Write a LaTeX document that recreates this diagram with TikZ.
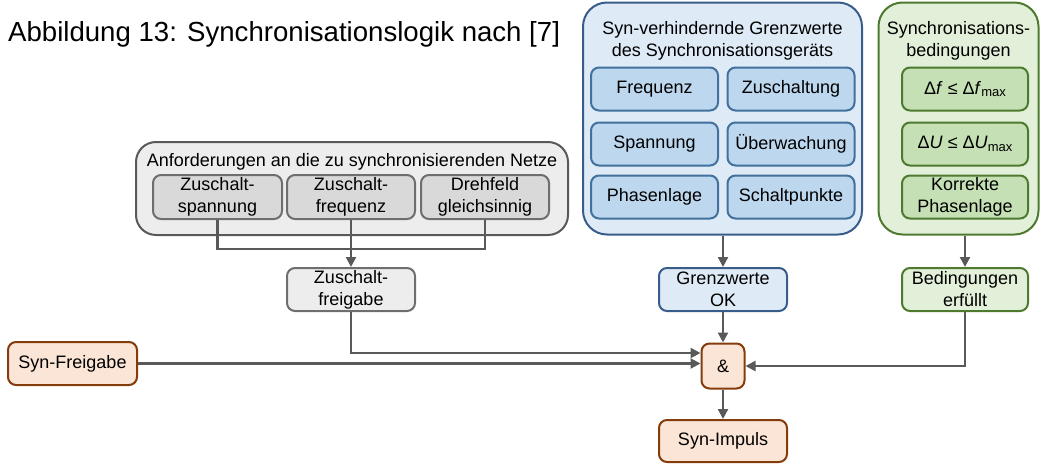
\documentclass[tikz,border=0pt]{standalone}
\usepackage{fontspec}
\setmainfont{Liberation Sans}
\usetikzlibrary{arrows.meta}
\definecolor{bluefill}{HTML}{DEEBF7}
\definecolor{blueline}{HTML}{385D8A}
\definecolor{blueinner}{HTML}{BDD7EE}
\definecolor{blueinline}{HTML}{41719C}
\definecolor{greenfill}{HTML}{E2F0D9}
\definecolor{greenline}{HTML}{4E7A2F}
\definecolor{greeninner}{HTML}{C5E0B4}
\definecolor{grayfill}{HTML}{EDEDED}
\definecolor{grayline}{HTML}{595959}
\definecolor{grayinner}{HTML}{D9D9D9}
\definecolor{grayinline}{HTML}{6E6E6E}
\definecolor{orfill}{HTML}{FBE5D6}
\definecolor{orline}{HTML}{843C0C}
\definecolor{conn}{HTML}{595959}
\newcommand{\mysub}[1]{\raisebox{-0.25ex}{\fontsize{13}{13}\selectfont #1}}
\begin{document}
\begin{tikzpicture}[x=1pt,y=-1pt,
  font=\fontsize{18}{22}\selectfont,
  base/.style={inner sep=0pt, align=center, line width=2pt},
  outerbox/.style={base, rounded corners=24pt},
  innerbox/.style={base, rounded corners=8pt, minimum height=43pt},
  bluebox/.style={outerbox, draw=blueline, fill=bluefill},
  greenbox/.style={outerbox, draw=greenline, fill=greenfill},
  graybox/.style={base, rounded corners=20pt, draw=grayline, fill=grayfill},
  blueinbox/.style={innerbox, draw=blueinline, fill=blueinner, minimum width=127pt},
  greeninbox/.style={innerbox, draw=greenline, fill=greeninner, minimum width=126pt},
  grayinbox/.style={innerbox, draw=grayinline, fill=grayinner, minimum width=128pt},
  blueres/.style={innerbox, draw=blueline, fill=bluefill, minimum width=128pt},
  greenres/.style={innerbox, draw=greenline, fill=greenfill, minimum width=126pt},
  grayres/.style={innerbox, draw=grayinline, fill=grayfill, minimum width=128pt},
  orbox/.style={innerbox, draw=orline, fill=orfill},
  conline/.style={draw=conn, line width=2.2pt},
  arr/.style={conline, -{Triangle[length=10pt,width=10pt]}}
]
\useasboundingbox (0,0) rectangle (1043,463);

\node[anchor=base west, inner sep=0pt, font=\fontsize{27.6}{30}\selectfont] (title) at (8,41) {Abbildung 13: Synchronisationslogik nach [7]};

% blue group
\node[bluebox, minimum width=279pt, minimum height=232pt] (blue) at (722.5,118.5) {};
\node[inner sep=0pt, align=center] (bluetitle) at (722.5,41) {Syn-verhindernde Grenzwerte\\des Synchronisationsgeräts};
\node[blueinbox] (freq) at (654.5,89) {Frequenz};
\node[blueinbox] (zusch) at (791,89) {Zuschaltung};
\node[blueinbox] (spann) at (654.5,144) {Spannung};
\node[blueinbox] (ueber) at (791,144) {Überwachung};
\node[blueinbox] (phase) at (654.5,197) {Phasenlage};
\node[blueinbox] (schalt) at (791,197) {Schaltpunkte};

% green group
\node[greenbox, minimum width=160pt, minimum height=232pt] (green) at (958.5,118.5) {};
\node[inner sep=0pt, align=center] (greentitle) at (958.5,41) {Synchronisations-\\bedingungen};
\node[greeninbox] (df) at (965,89) {Δ\textit{f} ≤ Δ\textit{f}\mysub{max}};
\node[greeninbox] (du) at (965,144) {Δ\textit{U} ≤ Δ\textit{U}\mysub{max}};
\node[greeninbox] (kp) at (965,197) {Korrekte\\Phasenlage};

% gray group
\node[graybox, minimum width=432pt, minimum height=93pt] (gray) at (352,188.5) {};
\node[inner sep=0pt] (graytitle) at (352,162) {Anforderungen an die zu synchronisierenden Netze};
\node[grayinbox, minimum width=129pt, minimum height=44pt] (zsp) at (217.5,197) {Zuschalt-\\spannung};
\node[grayinbox, minimum height=44pt] (zfq) at (351,197) {Zuschalt-\\frequenz};
\node[grayinbox, minimum height=44pt] (drf) at (485,197) {Drehfeld\\gleichsinnig};

% result boxes
\node[grayres] (zfg) at (351,289.5) {Zuschalt-\\freigabe};
\node[blueres] (gok) at (723,289.5) {Grenzwerte\\OK};
\node[greenres] (bef) at (965,289.5) {Bedingungen\\erfüllt};

% logic
\node[orbox, minimum width=43pt, minimum height=45pt] (and) at (723,366) {\&};
\node[orbox, minimum width=129pt] (sf) at (72.5,363.5) {Syn-Freigabe};
\node[orbox, minimum width=128pt, minimum height=42pt] (si) at (723,441) {Syn-Impuls};

% connectors
\coordinate (j) at (351,249);
\draw[conline] (zsp.south) |- (j) -| (drf.south);
\draw[arr] (zfq.south) -- (zfg.north);
\draw[arr] (blue.south -| gok.north) -- (gok.north);
\draw[arr] (green.south -| bef.north) -- (bef.north);
\draw[arr] (zfg.south) |- ([yshift=13pt]and.west);
\draw[arr] (sf.east) -- (sf.east -| and.west);
\draw[arr] (bef.south) |- (and.east);
\draw[arr] (gok.south) -- (and.north);
\draw[arr] (and.south) -- (si.north);
\end{tikzpicture}
\end{document}
